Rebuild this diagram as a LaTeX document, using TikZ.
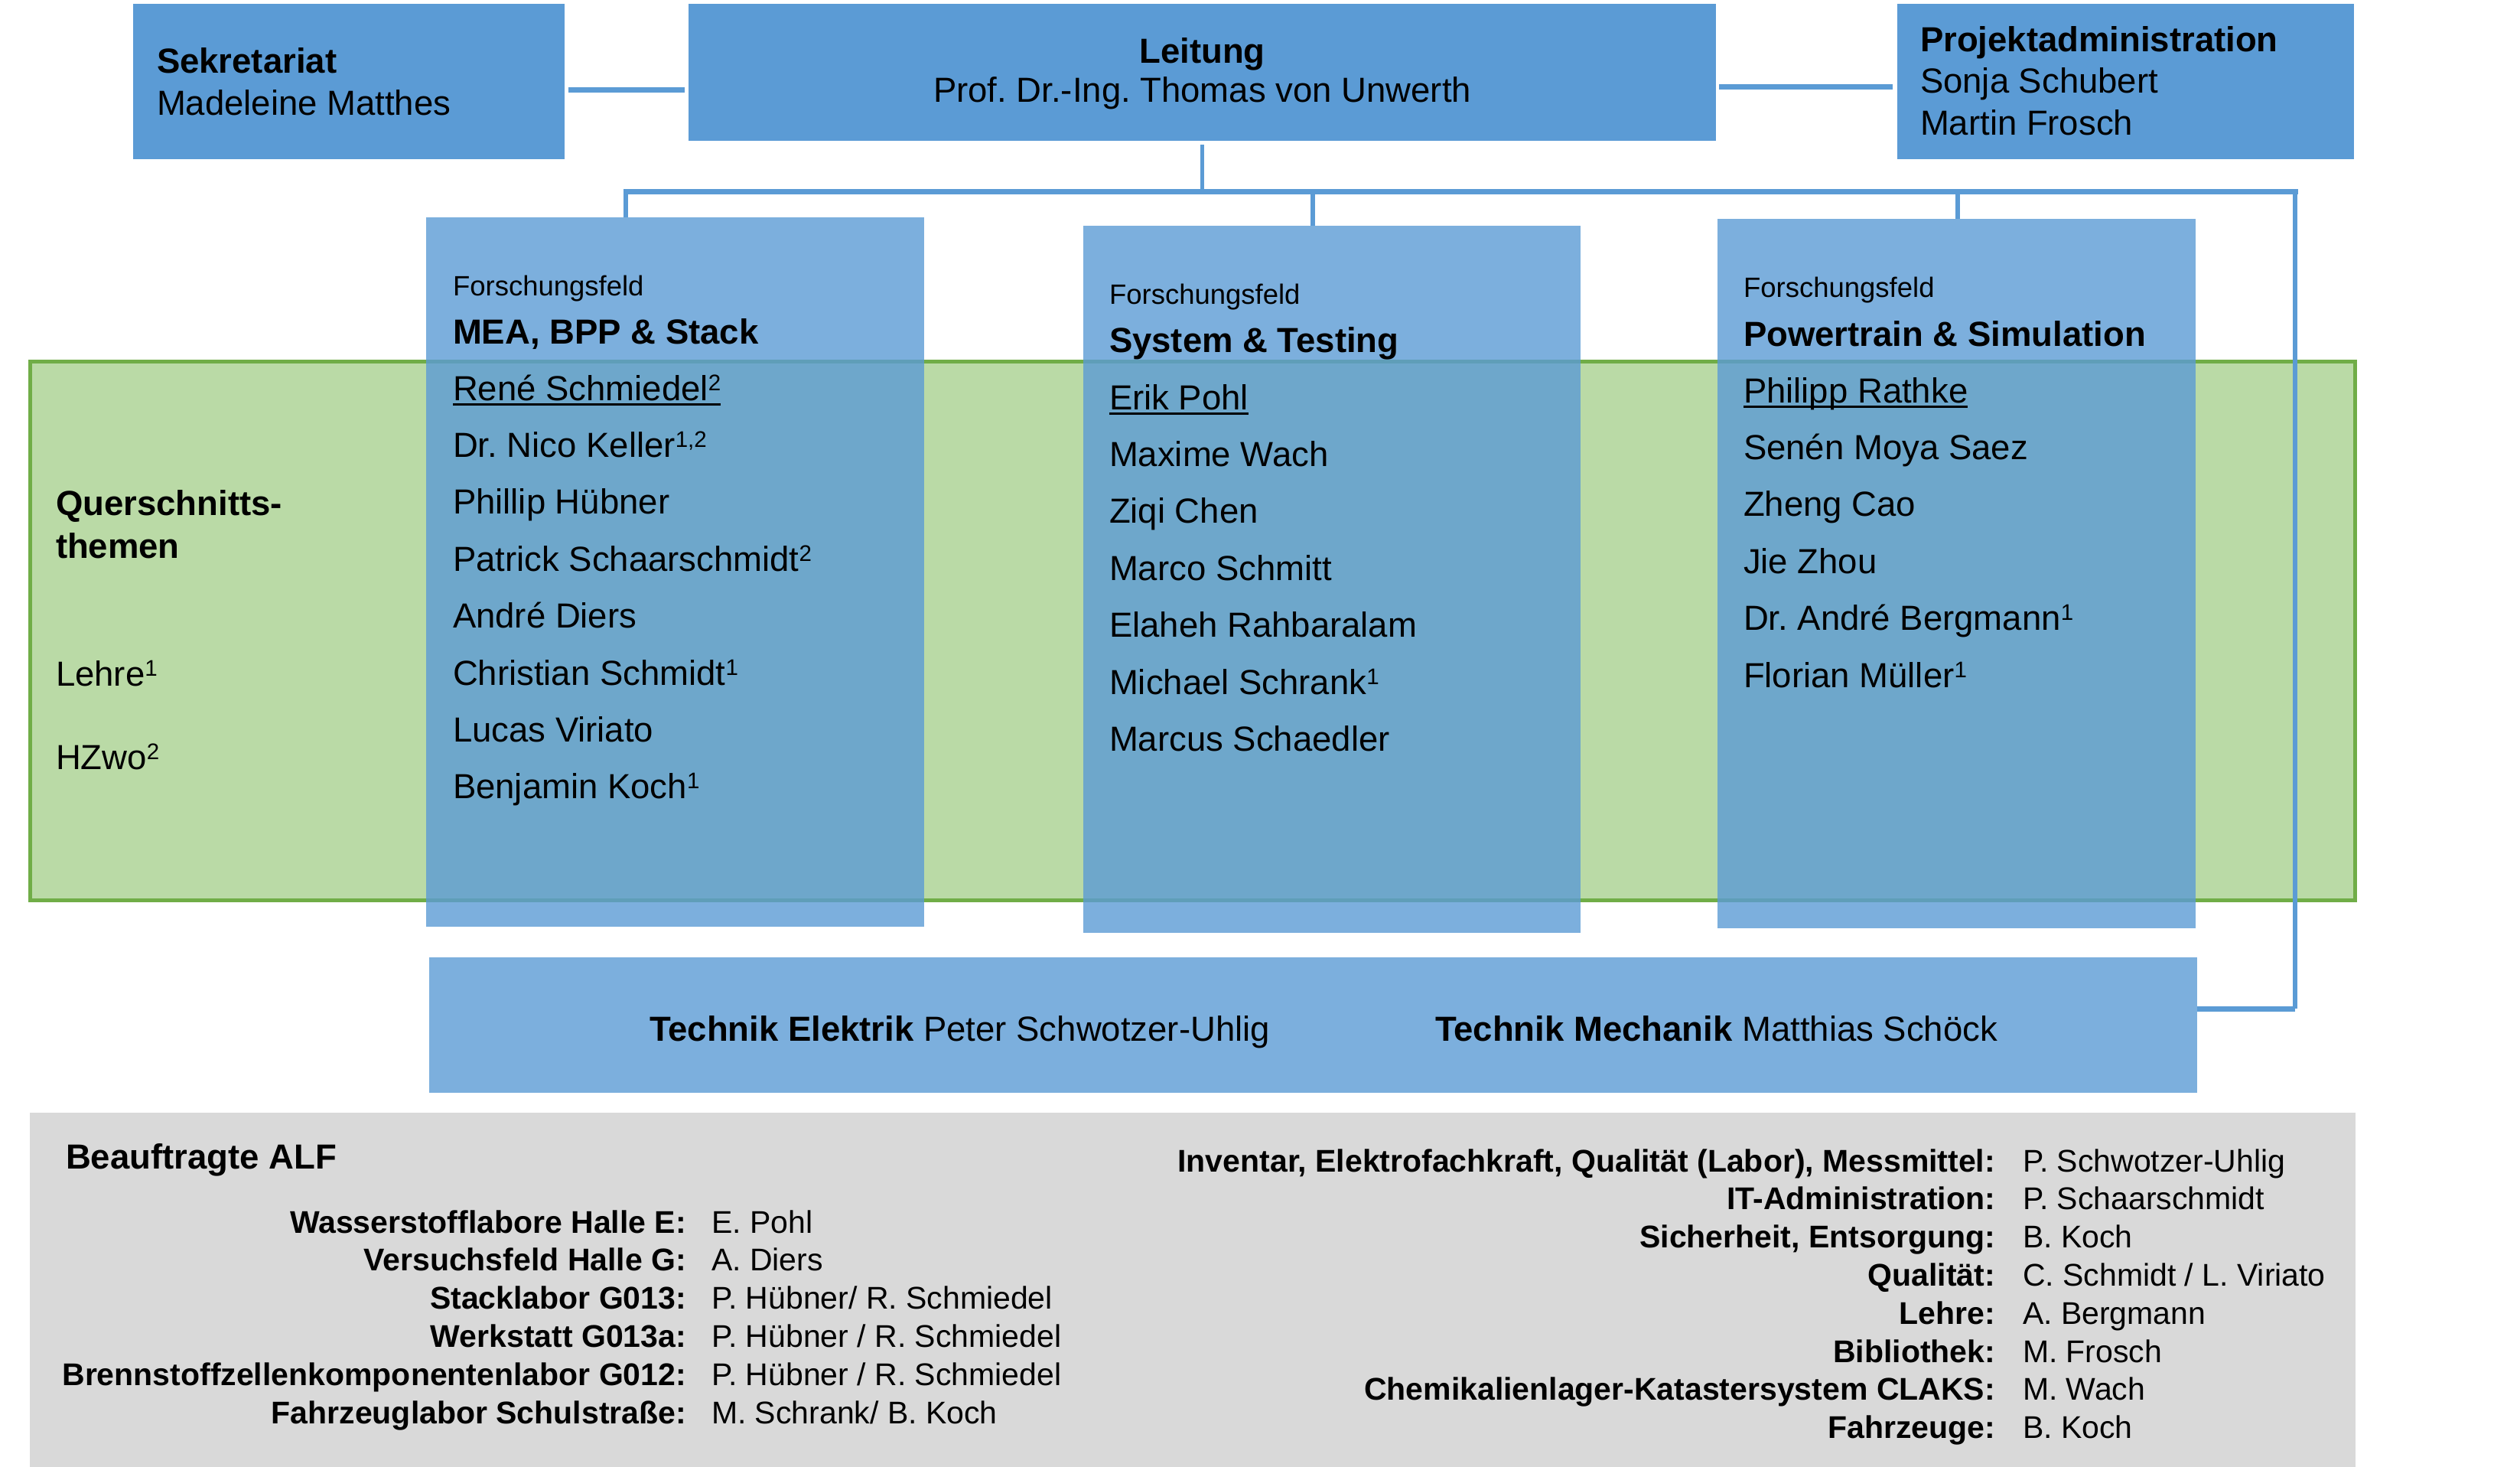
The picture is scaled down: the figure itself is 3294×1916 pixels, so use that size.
\documentclass[tikz,border=0pt]{standalone}
\usepackage{fontspec}
\setmainfont{Liberation Sans}
\usetikzlibrary{calc}
\definecolor{topblue}{HTML}{5B9BD5}
\definecolor{qgreen}{RGB}{186,218,166}
\definecolor{qborder}{HTML}{70AD47}
\definecolor{graybg}{HTML}{D9D9D9}
\newcommand\fbig{\fontsize{45.5}{54}\selectfont}
\newcommand\fsml{\fontsize{36.5}{44}\selectfont}
\newcommand\flst{\fontsize{41}{49}\selectfont}
\newcommand\sps[1]{\raisebox{13pt}{\fontsize{29.5}{30}\selectfont #1}}
\newcommand\ulname[1]{\setbox0=\hbox{#1}\rlap{\rule[-7pt]{\wd0}{3pt}}\box0}
\frenchspacing
\begin{document}
\frenchspacing
\begin{tikzpicture}[x=1pt,y=-1pt,
  box/.style={inner sep=0pt, outer sep=0pt, anchor=north west, draw=none},
  topbox/.style={box, fill=topblue},
  fieldbox/.style={box, fill=topblue, fill opacity=0.8},
  txt/.style={inner sep=0pt, outer sep=0pt, anchor=base west, font=\fbig},
  txtc/.style={inner sep=0pt, outer sep=0pt, anchor=base, font=\fbig},
  small/.style={txt, font=\fsml},
  lab/.style={inner sep=0pt, outer sep=0pt, anchor=base east, font=\flst\bfseries},
  val/.style={inner sep=0pt, outer sep=0pt, anchor=base west, font=\flst},
  hl/.style={draw=topblue, line width=7pt},
  vl/.style={draw=topblue, line width=5.5pt}]
\useasboundingbox (0,0) rectangle (3294,1916);

% boxes
\node[topbox, minimum width=564pt, minimum height=203pt] (sek) at (174,5) {};
\node[topbox, minimum width=1343pt, minimum height=179pt] (lei) at (900,5) {};
\node[topbox, minimum width=597pt, minimum height=203pt] (proj) at (2480,5) {};
\node[box, fill=qgreen, draw=qborder, line width=5pt, minimum width=3038.5pt, minimum height=704pt] (qt) at (39.5,472.5) {};
\node[fieldbox, minimum width=651pt, minimum height=927pt] (mea) at (557,284) {};
\node[fieldbox, minimum width=650pt, minimum height=924pt] (sys) at (1416,295) {};
\node[fieldbox, minimum width=625pt, minimum height=927pt] (pow) at (2245,286) {};
\node[fieldbox, minimum width=2311pt, minimum height=177pt] (tech) at (561,1251) {};
\node[box, fill=graybg, minimum width=3040pt, minimum height=470pt] (alf) at (39,1454) {};

% connectors
\coordinate (ys) at (0,118);
\coordinate (yp) at (0,113.5);
\draw[hl, shorten <=5pt, shorten >=5pt] (sek.east |- ys) -- (lei.west |- ys);
\draw[hl, shorten <=4pt, shorten >=6pt] (lei.east |- yp) -- (proj.west |- yp);
\coordinate (busL) at (818,250);
\coordinate (busR) at (3000,250);
\coordinate (busS) at (1716,250);
\coordinate (busP) at (2559,250);
\coordinate (techR) at (3000,1318);
\draw[vl, shorten <=5pt] (lei.south) -- (lei.south |- busL);
\draw[hl, line cap=rect] (busL) -- (busR);
\draw[vl] (busL) -- (busL |- mea.north);
\draw[vl] (busS) -- (busS |- sys.north);
\draw[vl] (busP) -- (busP |- pow.north);
\draw[vl] (busR) -- (techR);
\draw[hl] (techR) -- (tech.east |- techR);

% top texts
\node[txt, font=\fbig\bfseries] (sekt) at (205,96) {Sekretariat};
\node[txt] (sekn) at (205,150) {Madeleine Matthes};
\node[txtc, font=\fbig\bfseries] (leit) at (1571.5,83) {Leitung};
\node[txtc] (lein) at (1571.5,133) {Prof. Dr.-Ing. Thomas von Unwerth};
\node[txt, font=\fbig\bfseries] (projt) at (2510,68) {Projektadministration};
\node[txt] (projn1) at (2510,122) {Sonja Schubert};
\node[txt] (projn2) at (2510,176) {Martin Frosch};

% research fields
\node[small] (meaf) at (592,386) {Forschungsfeld};
\node[txt, font=\fbig\bfseries] (meat) at (592,449) {MEA, BPP \& Stack};
\foreach \t [count=\i] in {{\ulname{René Schmiedel\sps{2}}}, {Dr. Nico Keller\sps{1,2}}, {Phillip Hübner}, {Patrick Schaarschmidt\sps{2}}, {André Diers}, {Christian Schmidt\sps{1}}, {Lucas Viriato}, {Benjamin Koch\sps{1}}}
  \node[txt, name=mean\i] at (592,{523+74.4*(\i-1)}) {\t};

\node[small] (sysf) at (1450,397) {Forschungsfeld};
\node[txt, font=\fbig\bfseries] (syst) at (1450,460) {System \& Testing};
\foreach \t [count=\i] in {{\ulname{Erik Pohl}}, {Maxime Wach}, {Ziqi Chen}, {Marco Schmitt}, {Elaheh Rahbaralam}, {Michael Schrank\sps{1}}, {Marcus Schaedler}}
  \node[txt, name=sysn\i] at (1450,{535+74.4*(\i-1)}) {\t};

\node[small] (powf) at (2279,388) {Forschungsfeld};
\node[txt, font=\fbig\bfseries] (powt) at (2279,452) {Powertrain \& Simulation};
\foreach \t [count=\i] in {{\ulname{Philipp Rathke}}, {Senén Moya Saez}, {Zheng Cao}, {Jie Zhou}, {Dr. André Bergmann\sps{1}}, {Florian Müller\sps{1}}}
  \node[txt, name=pown\i] at (2279,{526+74.4*(\i-1)}) {\t};

% Querschnittsthemen
\node[txt, font=\fbig\bfseries] (qt1) at (73,673) {Querschnitts-};
\node[txt, font=\fbig\bfseries] (qt2) at (73,729) {themen};
\node[txt] (qt3) at (73,896) {Lehre\sps{1}};
\node[txt] (qt4) at (73,1005) {HZwo\sps{2}};

% Technik
\node[txt] (te) at (849,1360) {\textbf{Technik Elektrik} Peter Schwotzer-Uhlig};
\node[txt] (tm) at (1876,1360) {\textbf{Technik Mechanik} Matthias Schöck};

% Beauftragte
\node[txt, font=\fbig\bfseries] (alft) at (86,1527) {Beauftragte ALF};
\foreach \l/\v [count=\i] in {Wasserstofflabore Halle E:/E. Pohl, Versuchsfeld Halle G:/A. Diers, Stacklabor G013:/P. Hübner{/} R. Schmiedel, Werkstatt G013a:/P. Hübner {/} R. Schmiedel, Brennstoffzellenkomponentenlabor G012:/P. Hübner {/} R. Schmiedel, Fahrzeuglabor Schulstraße:/M. Schrank{/} B. Koch}
{
  \node[lab, name=ll\i] at (897,{1611+49.8*(\i-1)}) {\l};
  \node[val, name=lv\i] at (930,{1611+49.8*(\i-1)}) {\v};
}
\foreach \l/\v [count=\i] in {{Inventar, Elektrofachkraft, Qualität (Labor), Messmittel:}/P. Schwotzer-Uhlig, IT-Administration:/P. Schaarschmidt, {Sicherheit, Entsorgung:}/B. Koch, Qualität:/C. Schmidt {/} L. Viriato, Lehre:/A. Bergmann, Bibliothek:/M. Frosch, Chemikalienlager-Katastersystem CLAKS:/M. Wach, Fahrzeuge:/B. Koch}
{
  \node[lab, name=rl\i] at (2608,{1531+49.8*(\i-1)}) {\l};
  \node[val, name=rv\i] at (2644,{1531+49.8*(\i-1)}) {\v};
}
\end{tikzpicture}
\end{document}
